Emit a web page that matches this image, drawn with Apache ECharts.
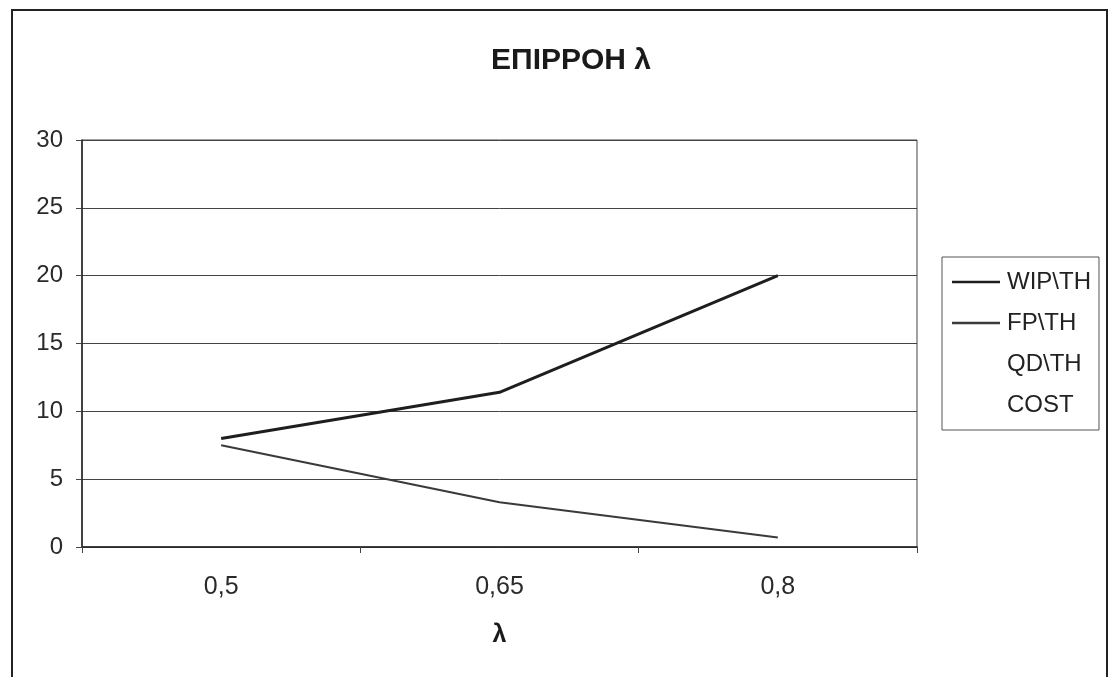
<!DOCTYPE html>
<html>
<head>
<meta charset="utf-8">
<script src="https://cdn.jsdelivr.net/npm/echarts@6/dist/echarts.min.js"></script>
<style>
  html, body { margin: 0; padding: 0; background: #fff; }
  #chart { width: 1111px; height: 677px; }
</style>
</head>
<body>
<div id="chart"></div>
<script>
// λ values on the category axis
const lambdaLabels = ['0,5', '0,65', '0,8'];
// Series values per λ
const wipTh = [8, 11.4, 20];
const fpTh = [7.5, 3.3, 0.7];
const qdTh = [];
const cost = [];
// Value axis range
const yMin = 0, yMax = 30, yStep = 5;

const font = 'Liberation Sans, Arial, sans-serif';
const chart = echarts.init(document.getElementById('chart'), null, { renderer: 'canvas' });

chart.setOption({
  backgroundColor: '#ffffff',
  animation: false,
  graphic: [{
    type: 'rect',
    shape: { x: 12, y: 10, width: 1095, height: 720 },
    style: { fill: 'none', stroke: '#222', lineWidth: 2 },
    silent: true
  }],
  title: {
    text: 'ΕΠΙΡΡΟΗ λ',
    left: 566, top: 41, textAlign: 'center',
    textStyle: { fontFamily: font, fontSize: 30, fontWeight: 'bold', color: '#1a1a1a' }
  },
  legend: {
    orient: 'vertical',
    left: 942, top: 257,
    padding: [13, 8, 13, 10],
    borderColor: '#555', borderWidth: 1,
    icon: 'rect',
    itemWidth: 48, itemHeight: 2.5, itemGap: 17,
    textStyle: { fontFamily: font, fontSize: 24, lineHeight: 24, color: '#222', padding: [0, 0, 0, 2] },
    data: [
      { name: 'WIP\\TH', itemStyle: { color: '#1e1e1e' } },
      { name: 'FP\\TH', itemStyle: { color: '#3a3a3a' } },
      { name: 'QD\\TH', itemStyle: { color: '#ffffff' } },
      { name: 'COST', itemStyle: { color: '#ffffff' } }
    ]
  },
  grid: {
    left: 82, top: 140, right: 194, bottom: 130,
    show: true, borderColor: '#444', borderWidth: 1, backgroundColor: 'transparent'
  },
  xAxis: {
    type: 'category',
    data: lambdaLabels,
    boundaryGap: true,
    name: 'λ',
    nameLocation: 'middle',
    nameGap: 76,
    nameTextStyle: { fontFamily: font, fontSize: 25, fontWeight: 'bold', color: '#1a1a1a' },
    axisLine: { lineStyle: { color: '#222', width: 1.5 } },
    axisTick: { show: true, length: 6, lineStyle: { color: '#444' } },
    axisLabel: { margin: 28, fontFamily: font, fontSize: 25, color: '#2a2a2a' }
  },
  yAxis: {
    type: 'value',
    min: yMin, max: yMax, interval: yStep,
    axisLine: { show: true, lineStyle: { color: '#222', width: 1.5 } },
    axisTick: { show: true, length: 6, lineStyle: { color: '#444' } },
    axisLabel: { margin: 19, fontFamily: font, fontSize: 24, color: '#2a2a2a' },
    splitLine: { lineStyle: { color: '#444', width: 1 } }
  },
  series: [
    {
      name: 'WIP\\TH', type: 'line', data: wipTh, symbol: 'none',
      lineStyle: { color: '#1e1e1e', width: 3 }, itemStyle: { color: '#1e1e1e' }
    },
    {
      name: 'FP\\TH', type: 'line', data: fpTh, symbol: 'none',
      lineStyle: { color: '#3a3a3a', width: 2.2 }, itemStyle: { color: '#3a3a3a' }
    },
    {
      name: 'QD\\TH', type: 'line', data: qdTh, symbol: 'none',
      lineStyle: { color: '#ffffff', width: 1 }, itemStyle: { color: '#ffffff' }
    },
    {
      name: 'COST', type: 'line', data: cost, symbol: 'none',
      lineStyle: { color: '#ffffff', width: 1 }, itemStyle: { color: '#ffffff' }
    }
  ]
});
</script>
</body>
</html>
